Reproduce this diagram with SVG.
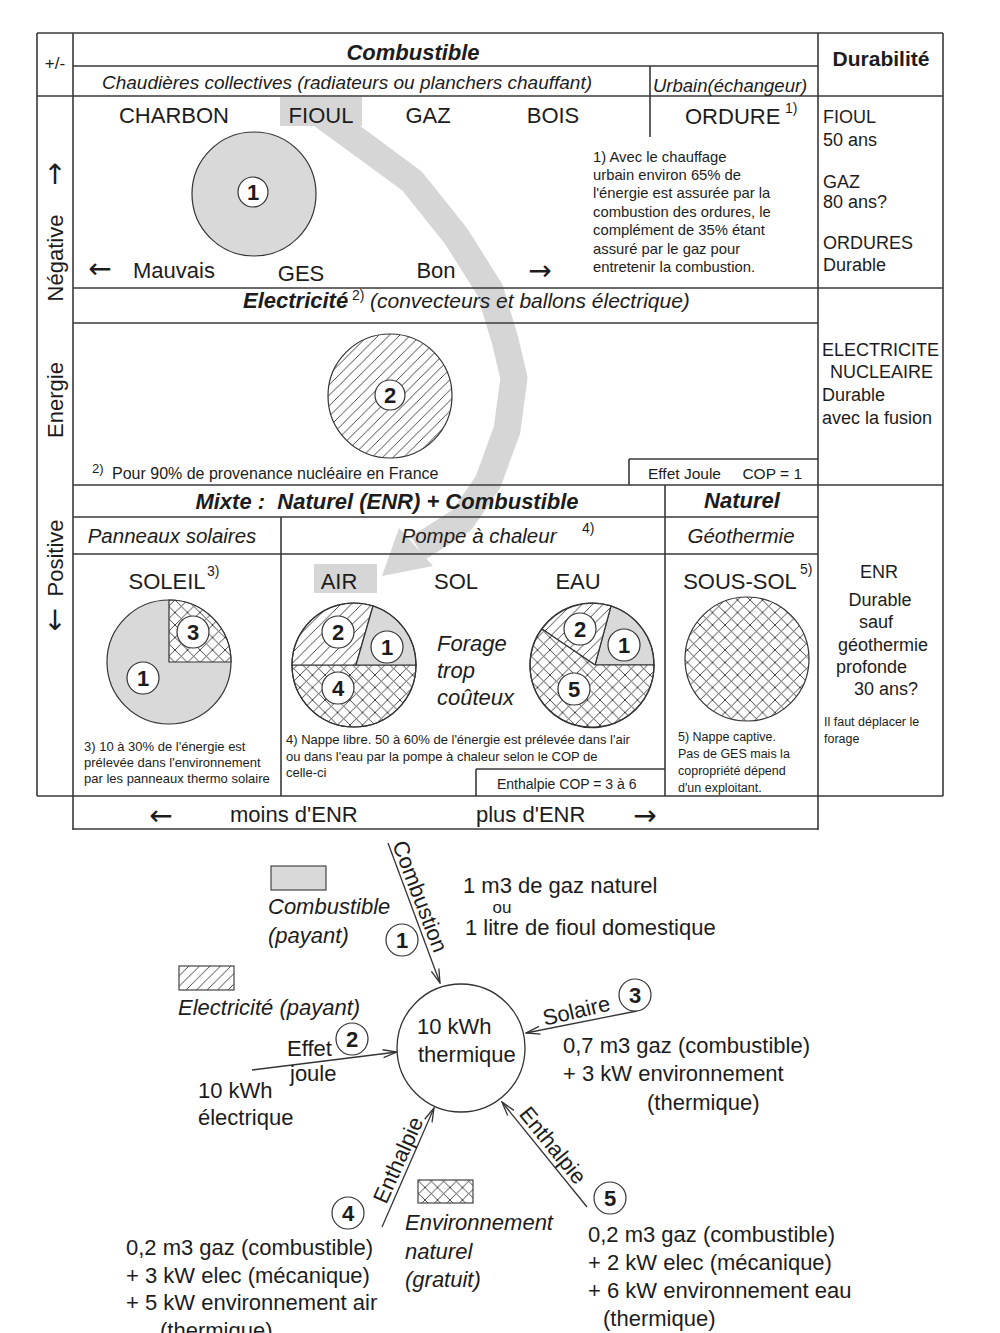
<svg xmlns="http://www.w3.org/2000/svg" width="1000" height="1333" viewBox="0 0 1000 1333">
<style>
text{font-family:"Liberation Sans",Arial,"DejaVu Sans",sans-serif;fill:#1c1c1c}
.b{font-weight:bold}
.i{font-style:italic}
.bi{font-weight:bold;font-style:italic}
.s22{font-size:22px}
.s21{font-size:21px}
.s18{font-size:18px}
.fn{font-size:13px}
.mid{text-anchor:middle}
.tl{stroke:#3a3a3a;stroke-width:1.6;fill:none}
.pie{stroke:#333;stroke-width:1.2}
.lab{fill:#fff;stroke:#333;stroke-width:1.2}
.num{font-weight:bold;font-size:22px;text-anchor:middle}
.conn{stroke:#333;stroke-width:1.3;fill:none}
.arr{font-family:"DejaVu Sans",sans-serif;font-size:28px}
</style>
<defs>
<pattern id="hatch" patternUnits="userSpaceOnUse" width="10.5" height="10.5">
<rect width="10.5" height="10.5" fill="#fff"/>
<path d="M-1,1 L1,-1 M0,10.5 L10.5,0 M9.5,11.5 L11.5,9.5" stroke="#333" stroke-width="0.9"/>
</pattern>
<pattern id="cross" patternUnits="userSpaceOnUse" width="12.5" height="12.5">
<rect width="12.5" height="12.5" fill="#fff"/>
<path d="M0,0 L12.5,12.5 M12.5,0 L0,12.5" stroke="#333" stroke-width="0.9"/>
</pattern>
<marker id="ah" markerWidth="16" markerHeight="10" refX="15" refY="5" orient="auto" markerUnits="userSpaceOnUse">
<path d="M1,1 L15,5 L1,9" fill="none" stroke="#333" stroke-width="1.3"/>
</marker>
</defs>
<rect width="1000" height="1333" fill="#fff"/>

<g id="band">
<rect x="280" y="97" width="82" height="29" fill="#d6d6d6"/>
<rect x="314" y="564" width="63" height="29" fill="#d6d6d6"/>
<polyline points="322,115 370,150 412,181 456,236 490,290 505,340 514,378 507,430 488,482 462,520 418,548" fill="none" stroke="#d6d6d6" stroke-width="27" stroke-linejoin="round"/>
<polygon points="382,576 433,566 399,528" fill="#d6d6d6"/>
</g>

<g id="table">
<path class="tl" d="M37,33 H943 M37,33 V796 M73,33 V830 M818,33 V830 M943,33 V796 M73,66 H818 M37,96 H943 M650,66 V137 M73,288 H943 M73,323 H818 M629,459 H818 M629,459 V485 M73,485 H943 M73,517 H818 M665,485 V796 M73,554 H818 M281,517 V796 M476,769 H665 M476,769 V796 M37,796 H943 M73,829 H818"/>
</g>

<g id="left-axis">
<text x="55" y="69" class="mid" font-size="17">+/-</text>
<text x="55" y="184" class="mid arr" font-size="30">↑</text>
<text transform="translate(63,258) rotate(-90)" class="mid s22">Négative</text>
<text transform="translate(63,400) rotate(-90)" class="mid s22">Energie</text>
<text transform="translate(63,558) rotate(-90)" class="mid s22">Positive</text>
<text x="55" y="630" class="mid arr" font-size="30">↓</text>
</g>

<g id="combustible">
<text x="413" y="60" class="mid bi s22">Combustible</text>
<text x="102" y="89" class="i" font-size="19">Chaudières collectives (radiateurs ou planchers chauffant)</text>
<text x="653" y="92" class="i" font-size="18.5">Urbain(échangeur)</text>
<text x="174" y="123" class="mid s22">CHARBON</text>
<text x="321" y="123" class="mid s22">FIOUL</text>
<text x="428" y="123" class="mid s22">GAZ</text>
<text x="553" y="123" class="mid s22">BOIS</text>
<text x="685" y="124" class="s22">ORDURE</text>
<text x="785" y="113" font-size="14">1)</text>
<circle cx="254" cy="194" r="62" fill="#d9d9d9" class="pie"/>
<circle cx="253" cy="192" r="15" class="lab"/>
<text x="253" y="200" class="num">1</text>
<text x="100" y="278" class="mid arr">←</text>
<text x="133" y="278" class="s22">Mauvais</text>
<text x="301" y="281" class="mid s22">GES</text>
<text x="436" y="278" class="mid s22">Bon</text>
<text x="540" y="280" class="mid arr">→</text>
<text x="593" y="162" font-size="14.8">1)  Avec le chauffage</text>
<text x="593" y="180" font-size="14.8">urbain environ  65% de</text>
<text x="593" y="198" font-size="14.8">l'énergie est assurée par la</text>
<text x="593" y="217" font-size="14.8">combustion des ordures, le</text>
<text x="593" y="235" font-size="14.8">complément de 35% étant</text>
<text x="593" y="254" font-size="14.8">assuré par le gaz pour</text>
<text x="593" y="272" font-size="14.8">entretenir la combustion.</text>
</g>

<g id="durabilite">
<text x="881" y="66" class="mid b s21">Durabilité</text>
<text x="823" y="123" class="s18">FIOUL</text>
<text x="823" y="146" class="s18">50 ans</text>
<text x="823" y="188" class="s18">GAZ</text>
<text x="823" y="208" class="s18">80 ans?</text>
<text x="823" y="249" class="s18">ORDURES</text>
<text x="823" y="271" class="s18">Durable</text>
<text x="822" y="356" class="s18">ELECTRICITE</text>
<text x="830" y="378" class="s18">NUCLEAIRE</text>
<text x="822" y="401" class="s18">Durable</text>
<text x="822" y="424" class="s18">avec la fusion</text>
<text x="879" y="578" class="mid s18">ENR</text>
<text x="880" y="606" class="mid s18">Durable</text>
<text x="876" y="628" class="mid s18">sauf</text>
<text x="883" y="651" class="mid s18">géothermie</text>
<text x="836" y="673" class="s18">profonde</text>
<text x="854" y="695" class="s18">30 ans?</text>
<text x="824" y="726" font-size="12.5">Il faut déplacer le</text>
<text x="824" y="743" font-size="12.5">forage</text>
</g>

<g id="electricite">
<text y="308"><tspan x="243" class="bi s22">Electricité</tspan><tspan x="352" dy="-8" font-size="14">2)</tspan><tspan x="370" dy="8" class="i s21">(convecteurs et ballons électrique)</tspan></text>
<circle cx="390" cy="396" r="62" fill="url(#hatch)" class="pie"/>
<circle cx="390" cy="395" r="15" class="lab"/>
<text x="390" y="403" class="num">2</text>
<text x="92" y="473" font-size="13">2)</text>
<text x="112" y="479" font-size="16">Pour 90% de provenance nucléaire en France</text>
<text x="648" y="479" font-size="15.5">Effet Joule</text>
<text x="802" y="479" font-size="15.5" text-anchor="end">COP = 1</text>
</g>

<g id="mixte">
<text x="387" y="509" class="mid bi s22">Mixte :&#160; Naturel (ENR) + Combustible</text>
<text x="742" y="508" class="mid bi s22">Naturel</text>
<text x="172" y="543" class="mid i" font-size="20.5">Panneaux solaires</text>
<text x="479" y="543" class="mid i" font-size="20.5">Pompe à chaleur</text>
<text x="582" y="533" font-size="14">4)</text>
<text x="741" y="543" class="mid i" font-size="20.5">Géothermie</text>
</g>

<g id="soleil">
<text x="167" y="589" class="mid s22">SOLEIL</text>
<text x="207" y="576" font-size="14">3)</text>
<circle cx="169" cy="662" r="62" fill="#d9d9d9" class="pie"/>
<path d="M169,662 L169,600 A62,62 0 0 1 231,662 Z" fill="url(#cross)" class="pie"/>
<circle cx="193" cy="632" r="16" class="lab"/>
<text x="193" y="640" class="num">3</text>
<circle cx="143" cy="678" r="16" class="lab"/>
<text x="143" y="686" class="num">1</text>
<text x="84" y="751" class="fn">3)  10 à 30% de l'énergie est</text>
<text x="84" y="767" class="fn">prélevée dans l'environnement</text>
<text x="84" y="783" class="fn">par les panneaux thermo solaire</text>
</g>

<g id="pompe">
<text x="339" y="589" class="mid s22">AIR</text>
<text x="456" y="589" class="mid s22">SOL</text>
<text x="578" y="589" class="mid s22">EAU</text>
<path d="M292,665 A62,62 0 0 0 416,665 Z" fill="url(#cross)" class="pie"/>
<path d="M292,665 L356,665 L373,606 A62,62 0 0 0 292,665 Z" fill="url(#hatch)" class="pie"/>
<path d="M356,665 L416,665 A62,62 0 0 0 373,606 Z" fill="#d9d9d9" class="pie"/>
<circle cx="354" cy="665" r="62" fill="none" class="pie"/>
<circle cx="338" cy="632" r="16" class="lab"/>
<text x="338" y="640" class="num">2</text>
<circle cx="387" cy="647" r="16" class="lab"/>
<text x="387" y="655" class="num">1</text>
<circle cx="338" cy="688" r="16" class="lab"/>
<text x="338" y="696" class="num">4</text>
<text x="437" y="651" class="i s22">Forage</text>
<text x="437" y="678" class="i s22">trop</text>
<text x="437" y="705" class="i s22">coûteux</text>
<path d="M595,665 L654,665 A62,62 0 0 0 611,606 Z" fill="#d9d9d9" class="pie"/>
<path d="M595,665 L611,606 A62,62 0 0 0 542,629 Z" fill="url(#hatch)" class="pie"/>
<path d="M595,665 L542,629 A62,62 0 1 0 654,665 Z" fill="url(#cross)" class="pie"/>
<circle cx="592" cy="665" r="62" fill="none" class="pie"/>
<circle cx="580" cy="629" r="16" class="lab"/>
<text x="580" y="637" class="num">2</text>
<circle cx="624" cy="645" r="16" class="lab"/>
<text x="624" y="653" class="num">1</text>
<circle cx="574" cy="689" r="16" class="lab"/>
<text x="574" y="697" class="num">5</text>
<text x="286" y="744" class="fn">4) Nappe libre.  50 à 60% de l'énergie est prélevée dans l'air</text>
<text x="286" y="761" class="fn">ou dans l'eau  par la pompe à chaleur selon le COP de</text>
<text x="286" y="777" class="fn">celle-ci</text>
<text x="497" y="789" font-size="14">Enthalpie COP = 3 à 6</text>
</g>

<g id="geothermie">
<text x="740" y="589" class="mid s22">SOUS-SOL</text>
<text x="800" y="574" font-size="14">5)</text>
<circle cx="747" cy="659" r="62" fill="url(#cross)" class="pie"/>
<text x="678" y="741" font-size="12.5">5) Nappe captive.</text>
<text x="678" y="758" font-size="12.5">Pas de GES mais la</text>
<text x="678" y="775" font-size="12.5">copropriété dépend</text>
<text x="678" y="792" font-size="12.5">d'un exploitant.</text>
</g>

<g id="enr-axis">
<text x="161" y="825" class="mid arr">←</text>
<text x="230" y="822" class="s22">moins d'ENR</text>
<text x="476" y="822" class="s22">plus d'ENR</text>
<text x="645" y="825" class="mid arr">→</text>
</g>

<g id="connectors">
<line x1="388" y1="843" x2="440" y2="983" class="conn" marker-end="url(#ah)"/>
<line x1="252" y1="1070" x2="397" y2="1052" class="conn" marker-end="url(#ah)"/>
<line x1="637" y1="1011" x2="526" y2="1033" class="conn" marker-end="url(#ah)"/>
<line x1="382" y1="1227" x2="434" y2="1108" class="conn" marker-end="url(#ah)"/>
<line x1="587" y1="1207" x2="502" y2="1102" class="conn" marker-end="url(#ah)"/>
<text transform="translate(413,899) rotate(69)" class="mid s22">Combustion</text>
<text transform="translate(578,1018) rotate(-13)" class="mid s22">Solaire</text>
<text transform="translate(405,1163) rotate(-66)" class="mid s22">Enthalpie</text>
<text transform="translate(547,1150) rotate(51)" class="mid s22">Enthalpie</text>
</g>

<g id="centre">
<circle cx="461" cy="1048" r="64" fill="#fff" stroke="#333" stroke-width="1.3"/>
<text x="417" y="1034" class="s22">10 kWh</text>
<text x="418" y="1062" class="s22">thermique</text>
</g>

<g id="legend">
<rect x="271" y="866" width="55" height="24" fill="#d9d9d9" stroke="#444" stroke-width="1.2"/>
<text x="268" y="914" class="i s22">Combustible</text>
<text x="268" y="943" class="i s22">(payant)</text>
<rect x="179" y="966" width="55" height="24" fill="url(#hatch)" stroke="#444" stroke-width="1.2"/>
<text x="178" y="1015" class="i s22">Electricité (payant)</text>
<rect x="418" y="1180" width="55" height="23" fill="url(#cross)" stroke="#444" stroke-width="1.2"/>
<text x="405" y="1230" class="i s22">Environnement</text>
<text x="405" y="1259" class="i s22">naturel</text>
<text x="405" y="1287" class="i s22">(gratuit)</text>
</g>

<g id="source1">
<circle cx="402" cy="940" r="16" class="lab"/>
<text x="402" y="948" class="num">1</text>
<text x="463" y="893" class="s22">1 m3 de  gaz naturel</text>
<text x="502" y="913" class="mid" font-size="17">ou</text>
<text x="465" y="935" class="s22">1 litre de fioul domestique</text>
</g>

<g id="source2">
<circle cx="352" cy="1039" r="16" class="lab"/>
<text x="352" y="1047" class="num">2</text>
<text x="287" y="1056" class="s22">Effet</text>
<text x="290" y="1081" class="s22">joule</text>
<text x="198" y="1098" class="s22">10 kWh</text>
<text x="198" y="1125" class="s22">électrique</text>
</g>

<g id="source3">
<circle cx="635" cy="995" r="16" class="lab"/>
<text x="635" y="1003" class="num">3</text>
<text x="563" y="1053" class="s22">0,7 m3 gaz (combustible)</text>
<text x="563" y="1081" class="s22">+ 3 kW environnement</text>
<text x="647" y="1110" class="s22">(thermique)</text>
</g>

<g id="source4">
<circle cx="348" cy="1213" r="16" class="lab"/>
<text x="348" y="1221" class="num">4</text>
<text x="126" y="1255" class="s22">0,2 m3 gaz (combustible)</text>
<text x="126" y="1283" class="s22">+ 3 kW elec (mécanique)</text>
<text x="126" y="1310" class="s22">+ 5 kW environnement air</text>
<text x="160" y="1338" class="s22">(thermique)</text>
</g>

<g id="source5">
<circle cx="610" cy="1198" r="16" class="lab"/>
<text x="610" y="1206" class="num">5</text>
<text x="588" y="1242" class="s22">0,2 m3 gaz (combustible)</text>
<text x="588" y="1270" class="s22">+ 2 kW elec (mécanique)</text>
<text x="588" y="1298" class="s22">+ 6 kW environnement eau</text>
<text x="603" y="1326" class="s22">(thermique)</text>
</g>
</svg>
